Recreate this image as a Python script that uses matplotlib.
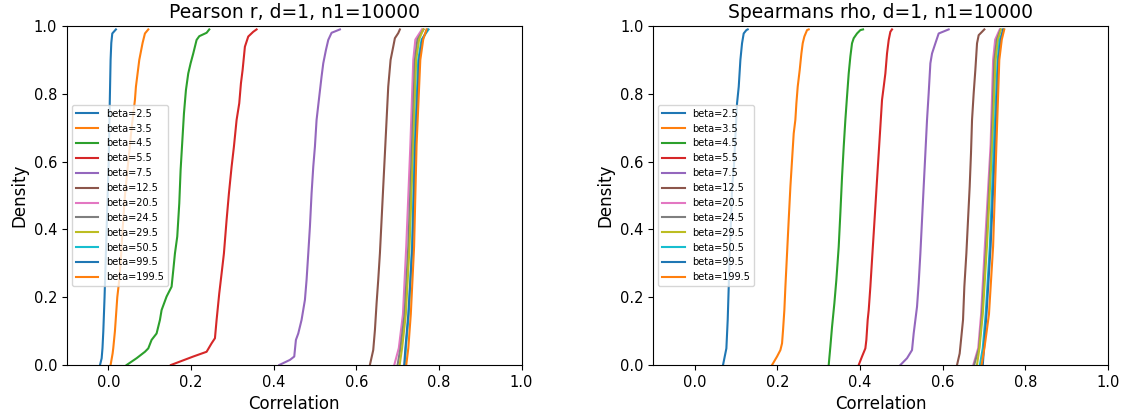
import numpy as np
import matplotlib
matplotlib.use("Agg")
import matplotlib.pyplot as plt

betas = [2.5, 3.5, 4.5, 5.5, 7.5, 12.5, 20.5, 24.5, 29.5, 50.5, 99.5, 199.5]

# cumulative levels shared by the tight high-beta curves
cluster_y = [0, 0.05, 0.15, 0.35, 0.65, 0.9, 0.96, 0.99]

# ---- Pearson r panel: (x, y) points ----
pearson_x = [
    [-0.020, -0.016, -0.014, -0.012, -0.009, -0.0065, -0.004, -0.0016, 0.001, 0.0024, 0.004, 0.0056, 0.0073, 0.0097, 0.0185],
    [0.0056, 0.0105, 0.0121, 0.0161, 0.0218, 0.0266, 0.0298, 0.0347, 0.0403, 0.0484, 0.0565, 0.0645, 0.0669, 0.075, 0.083, 0.0887, 0.0968],
    [0.0444, 0.0685, 0.0887, 0.0968, 0.1048, 0.1169, 0.125, 0.129, 0.1411, 0.1532, 0.1573, 0.1613, 0.1669, 0.1718, 0.175, 0.1798, 0.1831, 0.1879, 0.1935, 0.1992, 0.2056, 0.2137, 0.2202, 0.2379, 0.2444],
    [0.1516, 0.2056, 0.2379, 0.25, 0.2581, 0.2621, 0.2685, 0.2742, 0.2798, 0.2863, 0.2919, 0.2984, 0.304, 0.3105, 0.3169, 0.321, 0.325, 0.3306, 0.3387, 0.3508, 0.3589],
    [0.4137, 0.4395, 0.45, 0.454, 0.4597, 0.4677, 0.4758, 0.4798, 0.4839, 0.4879, 0.4919, 0.496, 0.5, 0.504, 0.5105, 0.5161, 0.5202, 0.5266, 0.5323, 0.5403, 0.5605],
    [0.633, 0.6411, 0.6452, 0.6492, 0.6532, 0.6573, 0.6613, 0.6653, 0.6694, 0.6734, 0.6774, 0.6831, 0.6895, 0.6935, 0.7016, 0.7056],
    [0.692, 0.703, 0.713, 0.721, 0.731, 0.738, 0.743, 0.759],
    [0.700, 0.707, 0.717, 0.726, 0.735, 0.742, 0.748, 0.763],
    [0.705, 0.711, 0.720, 0.729, 0.738, 0.745, 0.752, 0.762],
    [0.718, 0.720, 0.727, 0.735, 0.742, 0.750, 0.758, 0.775],
    [0.716, 0.719, 0.726, 0.736, 0.743, 0.752, 0.760, 0.772],
    [0.721, 0.726, 0.732, 0.740, 0.746, 0.755, 0.762, 0.770],
]
pearson_y = [
    [0, 0.020, 0.050, 0.100, 0.200, 0.300, 0.400, 0.500, 0.600, 0.700, 0.800, 0.900, 0.950, 0.978, 0.99],
    [0, 0.034, 0.050, 0.100, 0.200, 0.251, 0.300, 0.400, 0.500, 0.600, 0.700, 0.782, 0.821, 0.900, 0.950, 0.978, 0.990],
    [0, 0.020, 0.039, 0.049, 0.074, 0.093, 0.133, 0.162, 0.202, 0.231, 0.280, 0.329, 0.379, 0.477, 0.575, 0.674, 0.742, 0.811, 0.860, 0.890, 0.919, 0.959, 0.970, 0.980, 0.990],
    [0, 0.025, 0.039, 0.064, 0.079, 0.133, 0.211, 0.270, 0.329, 0.428, 0.506, 0.585, 0.644, 0.723, 0.772, 0.831, 0.870, 0.939, 0.969, 0.983, 0.990],
    [0, 0.015, 0.025, 0.074, 0.093, 0.133, 0.192, 0.251, 0.329, 0.408, 0.506, 0.585, 0.644, 0.723, 0.792, 0.851, 0.890, 0.929, 0.959, 0.980, 0.990],
    [0, 0.044, 0.103, 0.182, 0.251, 0.330, 0.428, 0.526, 0.625, 0.723, 0.821, 0.900, 0.939, 0.964, 0.979, 0.990],
    cluster_y, cluster_y, cluster_y, cluster_y, cluster_y, cluster_y,
]

# ---- Spearman rho panel ----
spearman_x = [
    [0.0685, 0.0718, 0.0766, 0.0798, 0.0823, 0.0847, 0.0879, 0.0903, 0.0944, 0.0984, 0.1024, 0.1065, 0.1105, 0.1145, 0.1185, 0.125, 0.1282],
    [0.1871, 0.1992, 0.2073, 0.2113, 0.2137, 0.2169, 0.2194, 0.2234, 0.2274, 0.2315, 0.2355, 0.2395, 0.2435, 0.246, 0.2492, 0.254, 0.2581, 0.2613, 0.2653, 0.2718, 0.2758],
    [0.3242, 0.3282, 0.3323, 0.3379, 0.3427, 0.3484, 0.3524, 0.3565, 0.3605, 0.3645, 0.3685, 0.3726, 0.3766, 0.3806, 0.3847, 0.3927, 0.4008, 0.4073],
    [0.3968, 0.4048, 0.4129, 0.4153, 0.4185, 0.421, 0.425, 0.429, 0.4331, 0.4371, 0.4411, 0.4452, 0.4492, 0.4532, 0.4573, 0.4613, 0.4653, 0.4694, 0.4734, 0.4774],
    [0.4976, 0.5137, 0.5258, 0.5298, 0.5339, 0.5379, 0.5419, 0.546, 0.55, 0.554, 0.5581, 0.5621, 0.5661, 0.5702, 0.5742, 0.5823, 0.5903, 0.6145],
    [0.6347, 0.6411, 0.6444, 0.6492, 0.6524, 0.6573, 0.6613, 0.6653, 0.6685, 0.671, 0.675, 0.679, 0.6831, 0.6871, 0.6952, 0.7008],
    [0.674, 0.686, 0.693, 0.702, 0.716, 0.722, 0.727, 0.738],
    [0.676, 0.688, 0.695, 0.705, 0.718, 0.725, 0.731, 0.740],
    [0.683, 0.689, 0.697, 0.707, 0.720, 0.728, 0.734, 0.741],
    [0.690, 0.697, 0.704, 0.714, 0.724, 0.733, 0.738, 0.748],
    [0.697, 0.700, 0.706, 0.716, 0.727, 0.735, 0.741, 0.746],
    [0.694, 0.701, 0.712, 0.722, 0.730, 0.737, 0.743, 0.749],
]
spearman_y = [
    [0, 0.020, 0.049, 0.133, 0.231, 0.329, 0.428, 0.526, 0.575, 0.674, 0.772, 0.821, 0.900, 0.949, 0.978, 0.988, 0.990],
    [0, 0.025, 0.044, 0.064, 0.103, 0.162, 0.231, 0.329, 0.428, 0.526, 0.605, 0.683, 0.723, 0.772, 0.821, 0.870, 0.919, 0.949, 0.969, 0.988, 0.990],
    [0, 0.054, 0.113, 0.182, 0.251, 0.349, 0.448, 0.556, 0.644, 0.723, 0.792, 0.860, 0.910, 0.949, 0.964, 0.978, 0.988, 0.990],
    [0, 0.025, 0.049, 0.074, 0.133, 0.162, 0.231, 0.310, 0.389, 0.467, 0.546, 0.625, 0.703, 0.782, 0.821, 0.860, 0.919, 0.959, 0.983, 0.990],
    [0, 0.020, 0.044, 0.093, 0.133, 0.172, 0.241, 0.329, 0.428, 0.526, 0.625, 0.723, 0.802, 0.890, 0.919, 0.949, 0.978, 0.990],
    [0, 0.034, 0.074, 0.133, 0.231, 0.329, 0.428, 0.526, 0.625, 0.723, 0.802, 0.870, 0.949, 0.973, 0.983, 0.990],
    cluster_y, cluster_y, cluster_y, cluster_y, cluster_y, cluster_y,
]

plt.rcParams["font.family"] = "DejaVu Sans"
fig, axes = plt.subplots(1, 2, figsize=(11.29, 4.17), dpi=100)
plt.subplots_adjust(left=0.0593, right=0.9814, top=0.9376, bottom=0.1247, wspace=0.29)


def draw(ax, xs, ys, title):
    for beta, x, y in zip(betas, xs, ys):
        ax.plot(x, y, label=f"beta={beta}")
    ax.set_xlim(-0.1, 1.0)
    ax.set_ylim(0, 1.0)
    ax.set_xticks(np.arange(0, 1.01, 0.2))
    ax.set_yticks(np.arange(0, 1.01, 0.2))
    ax.tick_params(labelsize=10.5)
    ax.set_xlabel("Correlation", fontsize=12)
    ax.set_ylabel("Density", fontsize=12)
    ax.set_title(title, fontsize=13.5)
    ax.legend(loc="center left", fontsize=7, handlelength=2.3)


draw(axes[0], pearson_x, pearson_y, "Pearson r, d=1, n1=10000")
draw(axes[1], spearman_x, spearman_y, "Spearmans rho, d=1, n1=10000")

fig.savefig("out.png", dpi=100)
